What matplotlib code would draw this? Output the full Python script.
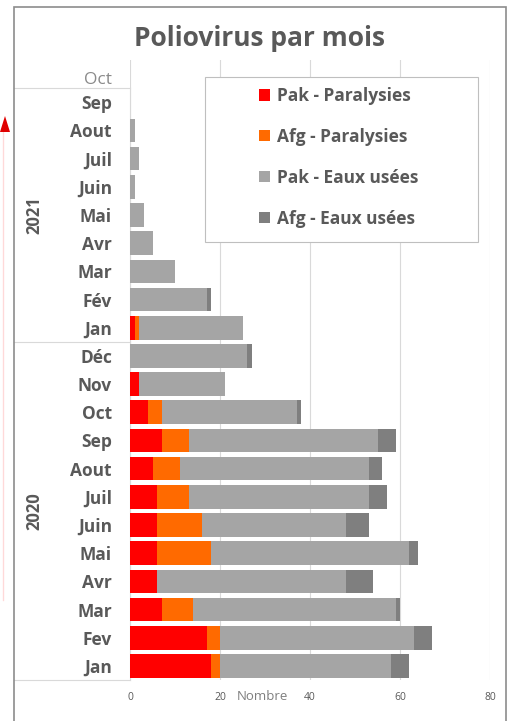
import numpy as np
import matplotlib
matplotlib.use("Agg")
import matplotlib.pyplot as plt
from matplotlib.patches import Rectangle, Polygon
from matplotlib.lines import Line2D

plt.rcParams['font.family'] = ['Open Sans', 'DejaVu Sans']

# ---------------------------------------------------------
# data, bottom row first
# ---------------------------------------------------------
months = ["Jan", "Fev", "Mar", "Avr", "Mai", "Juin", "Juil", "Aout", "Sep", "Oct", "Nov", "Déc",
          "Jan", "Fév", "Mar", "Avr", "Mai", "Juin", "Juil", "Aout", "Sep", "Oct"]
years = ["2020", "2021"]
pak_para = [18, 17, 7, 6, 6, 6, 6, 5, 7, 4, 2, 0, 1, 0, 0, 0, 0, 0, 0, 0, 0, 0]
afg_para = [2, 3, 7, 0, 12, 10, 7, 6, 6, 3, 0, 0, 1, 0, 0, 0, 0, 0, 0, 0, 0, 0]
pak_eaux = [38, 43, 45, 42, 44, 32, 40, 42, 42, 30, 19, 26, 23, 17, 10, 5, 3, 1, 2, 1, 0, 0]
afg_eaux = [4, 4, 1, 6, 2, 5, 4, 3, 4, 1, 0, 1, 0, 1, 0, 0, 0, 0, 0, 0, 0, 0]
series = ["Pak - Paralysies", "Afg - Paralysies", "Pak - Eaux usées", "Afg - Eaux usées"]
colors = ["#ff0000", "#ff6a00", "#a5a5a5", "#7f7f7f"]
xticks = [0, 20, 40, 60, 80]

W, H = 512, 721
fig = plt.figure(figsize=(W / 100, H / 100), dpi=100)

def fx(px):
    return px / W

def fy(py):
    return 1 - py / H

# chart border + leftover arrow from the source picture
fig.add_artist(Rectangle((fx(14), -0.05), fx(506) - fx(14), fy(7) + 0.05,
                         transform=fig.transFigure, fill=False, ec="#8c8c8c", lw=1.2))
fig.add_artist(Polygon([[fx(0), fy(132)], [fx(5), fy(116)], [fx(10), fy(132)]],
                       closed=True, transform=fig.transFigure, color="#e00000", lw=0))
fig.add_artist(Line2D([fx(3), fx(3)], [fy(132), fy(600)], transform=fig.transFigure,
                      color="#ff0000", alpha=0.15, lw=1))

ax = fig.add_axes([fx(130), fy(680), fx(490) - fx(130), fy(60) - fy(680)])

y = np.arange(len(months))
data = [pak_para, afg_para, pak_eaux, afg_eaux]
left = np.zeros(len(months))
for vals, c, name in zip(data, colors, series):
    ax.barh(y, vals, left=left, height=0.84, color=c, label=name, zorder=3)
    left += np.array(vals)

ax.set_xlim(0, 80)
ax.set_ylim(-0.5, len(months) - 0.5)
ax.set_xticks(xticks)
ax.set_xticklabels([str(t) for t in xticks], fontsize=7.5, color="#595959")
ax.tick_params(axis='x', length=0, pad=9)
ax.grid(axis='x', color="#d9d9d9", lw=0.8, zorder=0)
for s in ["top", "right", "bottom"]:
    ax.spines[s].set_visible(False)
ax.spines["left"].set_color("#d9d9d9")
ax.spines["left"].set_bounds(-0.5, len(months) - 1.5)

# month labels, the last one (Oct 2021) drawn separately in light grey
ax.set_yticks(y[:-1])
ax.set_yticklabels(months[:-1], fontsize=12.5, fontweight="bold", color="#595959")
ax.tick_params(axis='y', length=0, pad=13)
trans = ax.get_yaxis_transform()
ax.text((112 - 130) / (490 - 130), len(months) - 1 - 0.2, months[-1], transform=trans,
        ha="right", va="center", fontsize=12.5, color="#8a8a8a")

# group labels and dividers of the two-level axis
x_div = (14 - 130) / (490 - 130)
for yy in [-0.5, 11.5, 20.5]:
    ax.add_line(Line2D([x_div, 0], [yy, yy], transform=trans, color="#d9d9d9",
                       lw=0.8, clip_on=False))
for label, yc in zip(years, [5.5, 16.0]):
    ax.text((34 - 130) / (490 - 130), yc, label, transform=trans, rotation=90,
            ha="center", va="center", fontsize=12, fontweight="bold", color="#595959")

fig.text(fx(262), fy(697), "Nombre", ha="center", va="center", fontsize=9.5, color="#7f7f7f")
fig.text(fx(259), fy(39), "Poliovirus par mois", ha="center", va="center",
         fontsize=19, fontweight="bold", color="#595959")

# legend with Excel-like wide frame
fig.add_artist(Rectangle((fx(205), fy(242)), fx(478) - fx(205), fy(77) - fy(242),
                         transform=fig.transFigure, fill=True, fc="white",
                         ec="#bfbfbf", lw=0.8, zorder=4))
leg = ax.legend(loc="upper left", bbox_to_anchor=(fx(259), fy(87)),
                bbox_transform=fig.transFigure, frameon=False,
                handlelength=0.62, handleheight=0.62, handletextpad=0.4,
                labelspacing=1.32, borderpad=0, borderaxespad=0,
                prop={"size": 12.5, "weight": "bold"}, labelcolor="#595959")
leg.set_zorder(5)
fig.add_artist(leg)

fig.savefig("out.png", dpi=100)
